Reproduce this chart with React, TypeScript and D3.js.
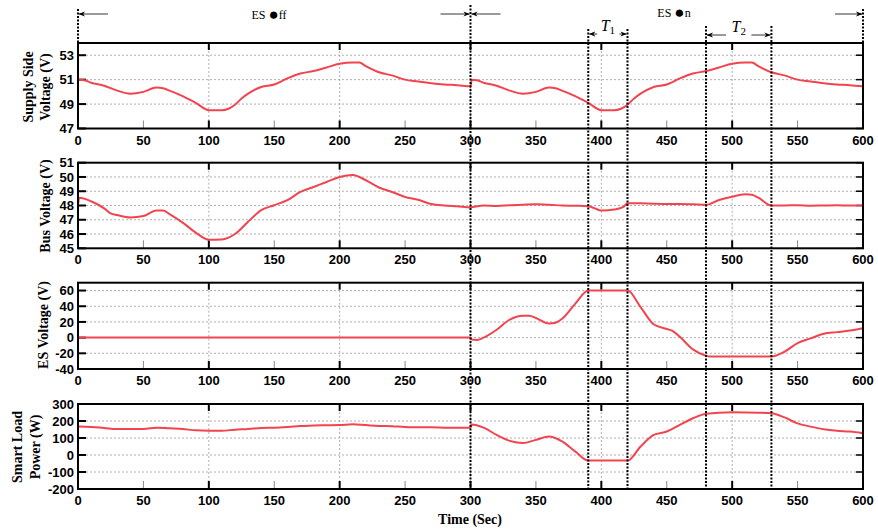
import React, { useEffect, useRef } from "react";
import * as d3 from "d3";

// time (s), value
const supplyVoltage: [number, number][] = [
  [0, 51.0], [5, 50.95], [10, 50.75], [20, 50.5], [30, 50.1], [40, 49.85], [50, 50.0], [60, 50.35],
  [65, 50.3], [70, 50.1], [80, 49.65], [90, 49.1], [100, 48.5], [110, 48.5], [115, 48.62], [120, 48.95],
  [125, 49.45], [130, 49.85], [140, 50.4], [150, 50.6], [160, 51.1], [170, 51.5], [180, 51.7], [190, 52.0],
  [200, 52.3], [210, 52.4], [215, 52.4], [220, 52.1], [230, 51.6], [240, 51.35], [250, 51.0], [260, 50.85],
  [270, 50.7], [280, 50.6], [290, 50.55], [300, 50.45], [301, 51.0], [305, 50.95], [310, 50.75], [320, 50.5],
  [330, 50.1], [340, 49.85], [350, 50.0], [360, 50.35], [365, 50.3], [370, 50.1], [380, 49.65], [390, 49.1],
  [400, 48.5], [410, 48.5], [415, 48.62], [420, 48.95], [425, 49.45], [430, 49.85], [440, 50.4], [450, 50.6],
  [460, 51.1], [470, 51.5], [480, 51.7], [490, 52.0], [500, 52.3], [510, 52.4], [515, 52.4], [520, 52.1],
  [530, 51.6], [540, 51.35], [550, 51.0], [560, 50.85], [570, 50.7], [580, 50.6], [590, 50.55], [600, 50.45],
];

const busVoltage: [number, number][] = [
  [0, 48.0], [1, 48.55], [10, 48.3], [20, 47.8], [25, 47.45], [30, 47.33], [40, 47.16], [50, 47.26],
  [60, 47.65], [65, 47.65], [70, 47.4], [80, 46.8], [90, 46.1], [100, 45.6], [110, 45.62], [115, 45.75],
  [120, 46.0], [130, 46.86], [140, 47.67], [150, 48.02], [160, 48.37], [170, 48.95], [180, 49.3], [190, 49.65],
  [200, 50.0], [210, 50.14], [220, 49.77], [230, 49.26], [240, 48.95], [250, 48.6], [260, 48.4],
  [270, 48.1], [280, 48.0], [290, 47.95], [300, 47.88], [310, 48.0], [320, 47.97], [330, 48.02],
  [340, 48.06], [350, 48.08], [360, 48.05], [370, 48.0], [380, 47.98], [390, 47.95], [395, 47.8],
  [400, 47.65], [410, 47.72], [417, 47.9], [420, 48.16], [430, 48.15], [440, 48.12], [450, 48.1],
  [460, 48.1], [470, 48.08], [480, 48.05], [490, 48.38], [500, 48.62], [510, 48.78], [515, 48.75],
  [520, 48.55], [530, 48.0], [540, 48.0], [550, 48.02], [560, 47.99], [570, 48.0], [580, 48.01],
  [590, 48.0], [600, 48.0],
];

const esVoltage: [number, number][] = [
  [0, 0], [100, 0], [200, 0], [300, 0], [301, -2.5], [305, -3], [310, 0], [320, 10], [330, 23],
  [340, 28], [345, 28], [350, 25], [360, 18], [365, 19], [370, 24], [380, 43], [390, 60], [420, 60],
  [430, 39], [440, 17], [450, 11], [455, 8], [460, 1], [470, -15], [480, -23], [483, -24], [530, -24],
  [540, -18], [550, -7], [560, -1], [570, 5], [580, 7], [590, 9], [600, 12],
];

const smartLoadPower: [number, number][] = [
  [0, 167], [10, 165], [20, 159], [30, 153], [50, 153], [60, 161], [70, 157], [80, 153], [90, 145],
  [100, 143], [110, 143], [120, 149], [130, 153], [140, 159], [150, 161], [160, 165], [170, 170],
  [180, 174], [190, 175], [200, 176], [210, 181], [220, 176], [230, 171], [240, 169], [250, 165],
  [260, 163], [270, 163], [280, 161], [290, 160], [300, 160], [301, 180], [310, 161], [320, 118],
  [330, 83], [340, 70], [350, 89], [360, 109], [370, 80], [380, 21], [390, -33], [420, -33],
  [430, 50], [440, 118], [450, 138], [460, 177], [470, 216], [480, 243], [500, 252], [520, 249],
  [530, 245], [540, 221], [550, 186], [560, 167], [570, 151], [580, 142], [590, 138], [600, 128],
];

const xTicks = [0, 50, 100, 150, 200, 250, 300, 350, 400, 450, 500, 550, 600];
const supplyTicks = [47, 49, 51, 53];
const busTicks = [45, 46, 47, 48, 49, 50, 51];
const esTicks = [-40, -20, 0, 20, 40, 60];
const loadTicks = [-200, -100, 0, 100, 200, 300];

const eventTimes = [300, 390, 420, 480, 530];

export default function App() {
  const svgRef = useRef<SVGSVGElement>(null);

  useEffect(() => {
    const svg = d3.select(svgRef.current);
    svg.selectAll("*").remove();

    const x = d3.scaleLinear().domain([0, 600]).range([78, 863]);
    const red = "#f2444f";
    const sans = "Liberation Sans, Arial, sans-serif";
    const serif = "Liberation Serif, Times New Roman, serif";

    const defs = svg.append("defs");
    defs.append("marker")
      .attr("id", "arr")
      .attr("viewBox", "0 0 10 10")
      .attr("refX", 9.5)
      .attr("refY", 5)
      .attr("markerWidth", 8)
      .attr("markerHeight", 8)
      .attr("orient", "auto")
      .append("path")
      .attr("d", "M0,1 L10,5 L0,9 L3,5 Z")
      .attr("fill", "#000");

    const panels = [
      { data: supplyVoltage, domain: [47, 54], ticks: supplyTicks, top: 43, bottom: 128.5,
        label: [["Supply Side", 28], ["Voltage (V)", 45]], labelY: 87 },
      { data: busVoltage, domain: [45, 51], ticks: busTicks, top: 162.7, bottom: 248.3,
        label: [["Bus Voltage (V)", 45]], labelY: 206 },
      { data: esVoltage, domain: [-40, 70], ticks: esTicks, top: 282.7, bottom: 369,
        label: [["ES Voltage (V)", 43]], labelY: 325 },
      { data: smartLoadPower, domain: [-200, 300], ticks: loadTicks, top: 404, bottom: 489,
        label: [["Smart Load", 17], ["Power (W)", 35]], labelY: 447 },
    ];

    panels.forEach((p) => {
      const y = d3.scaleLinear().domain(p.domain).range([p.bottom, p.top]);
      const g = svg.append("g");
      const [x0, x1] = x.range();

      // grid
      g.selectAll(".hgrid")
        .data(p.ticks.filter((t) => t > p.domain[0] && t < p.domain[1]))
        .join("line")
        .attr("x1", x0).attr("x2", x1)
        .attr("y1", (d) => y(d)).attr("y2", (d) => y(d))
        .attr("stroke", "#9a9a9a").attr("stroke-width", 0.8)
        .attr("stroke-dasharray", "2,2");
      g.selectAll(".vgrid")
        .data([100, 200, 300, 400, 500])
        .join("line")
        .attr("x1", (d) => x(d)).attr("x2", (d) => x(d))
        .attr("y1", p.top).attr("y2", p.bottom)
        .attr("stroke", "#9a9a9a").attr("stroke-width", 0.8)
        .attr("stroke-dasharray", "2,2");

      // minor x ticks
      g.selectAll(".minor")
        .data(xTicks.filter((t) => t % 100 === 50))
        .join("line")
        .attr("x1", (d) => x(d)).attr("x2", (d) => x(d))
        .attr("y1", p.bottom).attr("y2", p.bottom - 8)
        .attr("stroke", "#888").attr("stroke-width", 1);
      // major x ticks
      const major = xTicks.filter((t) => t % 100 === 0 && t > 0 && t < 600);
      g.selectAll(".majB")
        .data(major)
        .join("line")
        .attr("x1", (d) => x(d)).attr("x2", (d) => x(d))
        .attr("y1", p.bottom).attr("y2", p.bottom - 8)
        .attr("stroke", "#000").attr("stroke-width", 2);
      g.selectAll(".majT")
        .data(major)
        .join("line")
        .attr("x1", (d) => x(d)).attr("x2", (d) => x(d))
        .attr("y1", p.top).attr("y2", p.top + 7)
        .attr("stroke", "#000").attr("stroke-width", 2);

      // y ticks both sides
      g.selectAll(".ytL")
        .data(p.ticks)
        .join("line")
        .attr("x1", x0).attr("x2", x0 + 8)
        .attr("y1", (d) => y(d)).attr("y2", (d) => y(d))
        .attr("stroke", "#000").attr("stroke-width", 2);
      g.selectAll(".ytR")
        .data(p.ticks)
        .join("line")
        .attr("x1", x1).attr("x2", x1 - 7)
        .attr("y1", (d) => y(d)).attr("y2", (d) => y(d))
        .attr("stroke", "#000").attr("stroke-width", 1.5);

      // line
      const line = d3.line<[number, number]>()
        .x((d) => x(d[0]))
        .y((d) => y(d[1]))
        .curve(d3.curveMonotoneX);
      g.append("path")
        .datum(p.data)
        .attr("d", line)
        .attr("fill", "none")
        .attr("stroke", red)
        .attr("stroke-width", 2);

      // frame
      g.append("rect")
        .attr("x", x0).attr("y", p.top)
        .attr("width", x1 - x0).attr("height", p.bottom - p.top)
        .attr("fill", "none").attr("stroke", "#000").attr("stroke-width", 2);

      // tick labels
      g.selectAll(".ylab")
        .data(p.ticks)
        .join("text")
        .attr("x", x0 - 4)
        .attr("y", (d) => y(d))
        .attr("dy", "0.36em")
        .attr("text-anchor", "end")
        .attr("font-family", sans)
        .attr("font-weight", "bold")
        .attr("font-size", 13)
        .text((d) => d);
      g.selectAll(".xlab")
        .data(xTicks)
        .join("text")
        .attr("x", (d) => x(d))
        .attr("y", p.bottom + 16)
        .attr("text-anchor", "middle")
        .attr("font-family", sans)
        .attr("font-weight", "bold")
        .attr("font-size", 13)
        .text((d) => d);

      // axis title
      p.label.forEach(([txt, lx]) => {
        g.append("text")
          .attr("transform", `translate(${lx},${p.labelY}) rotate(-90)`)
          .attr("dy", "0.35em")
          .attr("text-anchor", "middle")
          .attr("font-family", serif)
          .attr("font-weight", "bold")
          .attr("font-size", 14)
          .text(txt as string);
      });
    });

    // event lines
    const bottomAll = 489;
    const ev = svg.append("g");
    const eventTop: Record<number, number> = { 300: 5, 390: 29, 420: 29, 480: 26, 530: 26 };
    eventTimes.forEach((t) => {
      ev.append("line")
        .attr("x1", x(t)).attr("x2", x(t))
        .attr("y1", eventTop[t]).attr("y2", bottomAll)
        .attr("stroke", "#000").attr("stroke-width", 2)
        .attr("stroke-dasharray", "2,1.5");
    });
    [0, 600].forEach((t) => {
      ev.append("line")
        .attr("x1", x(t)).attr("x2", x(t))
        .attr("y1", 9).attr("y2", 43)
        .attr("stroke", "#000").attr("stroke-width", 2)
        .attr("stroke-dasharray", "2,1.5");
    });

    // arrows
    const arrow = (xa: number, xb: number, yy: number) => {
      ev.append("line")
        .attr("x1", xa).attr("x2", xb)
        .attr("y1", yy).attr("y2", yy)
        .attr("stroke", "#000").attr("stroke-width", 0.8)
        .attr("marker-end", "url(#arr)");
    };
    arrow(x(0) + 30, x(0) + 1, 14);
    arrow(x(300) - 30, x(300) - 1, 14);
    arrow(x(300) + 30, x(300) + 1, 14);
    arrow(x(600) - 28, x(600) - 1, 14);
    arrow(x(390) + 9, x(390) + 1, 34);
    arrow(x(420) - 8, x(420) - 1, 34);
    arrow(x(480) + 20, x(480) + 1, 35);
    arrow(x(530) - 20, x(530) - 1, 35);

    const esLabel = (cx: number, cy: number, tail: string) => {
      const t = ev.append("text")
        .attr("x", cx).attr("y", cy)
        .attr("text-anchor", "middle")
        .attr("font-family", serif).attr("font-size", 12);
      t.append("tspan").text("ES ");
      t.append("tspan").attr("font-size", 17).attr("dy", 1).text("●");
      t.append("tspan").attr("dy", -1).text(tail);
    };
    esLabel(269, 19, "ff");
    esLabel(674, 17, "n");

    const tLabel = (cx: number, cy: number, sub: string) => {
      const t = ev.append("text")
        .attr("x", cx).attr("y", cy)
        .attr("text-anchor", "middle")
        .attr("font-family", serif).attr("font-size", 16);
      t.append("tspan").attr("font-style", "italic").text("T");
      t.append("tspan").attr("font-size", 11).attr("dy", 3).text(sub);
    };
    tLabel((x(390) + x(420)) / 2, 31, "1");
    tLabel((x(480) + x(530)) / 2, 32, "2");

    svg.append("text")
      .attr("x", 470).attr("y", 524)
      .attr("text-anchor", "middle")
      .attr("font-family", serif)
      .attr("font-weight", "bold")
      .attr("font-size", 14)
      .text("Time (Sec)");
  }, []);

  return (
    <svg
      ref={svgRef}
      width={878}
      height={531}
      style={{ position: "absolute", left: 0, top: 0, background: "#fff" }}
    />
  );
}
